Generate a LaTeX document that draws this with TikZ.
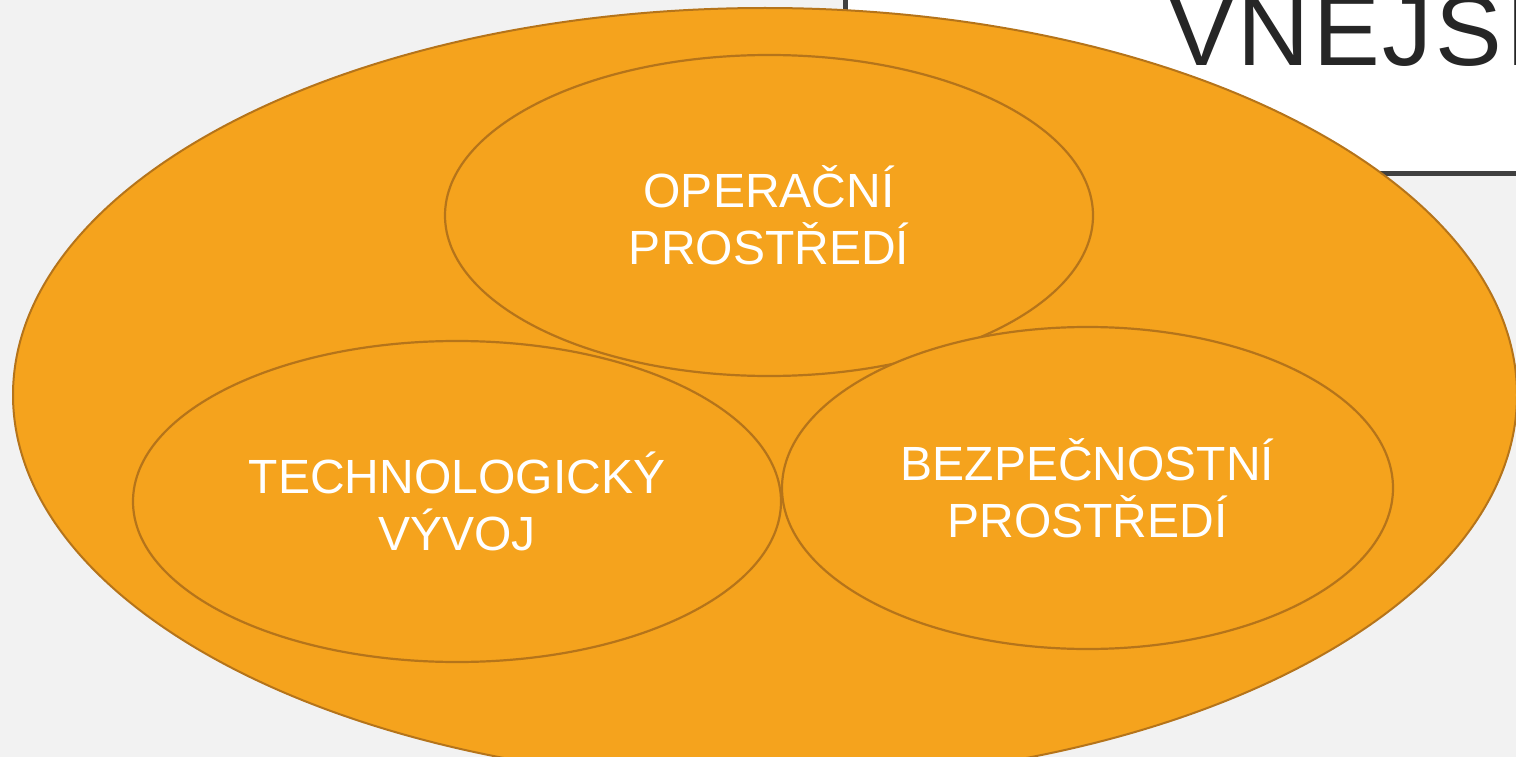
\documentclass[tikz,border=0pt]{standalone}
\usepackage{fontspec}
\setmainfont{Liberation Sans}
\newfontfamily\titlefont[LetterSpace=3]{Liberation Sans}
\usetikzlibrary{shapes.geometric}
\definecolor{bg}{HTML}{F2F2F2}
\definecolor{orfill}{HTML}{F5A31D}
\definecolor{orline}{HTML}{B5741A}
\definecolor{boxline}{HTML}{404040}
\definecolor{titletext}{HTML}{262626}
\tikzset{
  oval/.style={ellipse, fill=orfill, draw=orline, line width=2.2pt, inner sep=0pt,
    text=white, align=center, font=\fontsize{48}{57}\selectfont},
}
\begin{document}
\begin{tikzpicture}[x=1pt,y=-1pt]
\useasboundingbox (0,0) rectangle (1516,757);
\fill[bg] (0,0) rectangle (1516,757);
\begin{scope}
\clip (0,0) rectangle (1516,757);
\node[draw=boxline, fill=white, line width=5pt, minimum width=700pt, minimum height=200pt, inner sep=0pt, anchor=south west] (box) at (843,176) {};
\node[anchor=base west, inner sep=0pt, text=titletext, font=\titlefont\fontsize{100}{120}\selectfont] (title) at (1168,66) {VNĚJŠÍ};
\node[oval, line width=2pt, minimum width=1504pt, minimum height=774pt] (outer) at (765,395) {};
\node[oval, minimum width=648pt, minimum height=321pt] (op) at (769,215.5) {OPERAČNÍ\\PROSTŘEDÍ};
\node[oval, minimum width=648pt, minimum height=321pt] (tech) at (457,501.5) {TECHNOLOGICKÝ\\VÝVOJ};
\node[oval, minimum width=611pt, minimum height=322pt] (bez) at (1087.5,488) {BEZPEČNOSTNÍ\\PROSTŘEDÍ};
\end{scope}
\end{tikzpicture}
\end{document}
